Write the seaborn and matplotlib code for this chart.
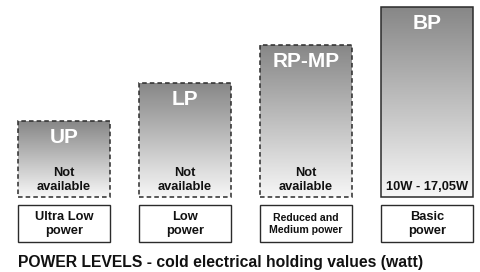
"""
Power levels - cold electrical holding values
"""
import numpy as np
import pandas as pd
import matplotlib.pyplot as plt
import seaborn as sns
from matplotlib.patches import Rectangle
from matplotlib.colors import LinearSegmentedColormap

sns.set_style('white')
plt.rcParams['font.family'] = ['Liberation Sans', 'DejaVu Sans']

# Data
levels = ['UP', 'LP', 'RP-MP', 'BP']
heights = [2, 3, 4, 5]
values = ['Not\navailable', 'Not\navailable', 'Not\navailable', '10W - 17,05W']
names = ['Ultra Low\npower', 'Low\npower', 'Reduced and\nMedium power', 'Basic\npower']
available = [False, False, False, True]
title = 'POWER LEVELS - cold electrical holding values (watt)'

df = pd.DataFrame({'level': levels, 'height': heights})

fig = plt.figure(figsize=(4.81, 2.72), dpi=100)
ax = fig.add_axes([0, 0, 1, 1])

sns.barplot(data=df, x='level', y='height', order=levels, width=0.76,
            color='white', edgecolor='none', ax=ax)

ax.axis('off')

# gradient fill clipped to each bar
cmap = LinearSegmentedColormap.from_list('grey', ['#f7f7f7', '#878787'])
grad = np.linspace(0, 1, 256).reshape(-1, 1)
for bar, ok in zip(ax.patches, available):
    x0, w, h = bar.get_x(), bar.get_width(), bar.get_height()
    im = ax.imshow(grad, cmap=cmap, aspect='auto', origin='lower',
                   extent=(x0, x0 + w, 0, h), zorder=1)
    im.set_clip_path(bar)
    ax.add_patch(Rectangle((x0, 0), w, h, fill=False, edgecolor='#2b2b2b',
                           lw=1.1, linestyle='-' if ok else (0, (3, 2)), zorder=3))

ax.set_xlim(-0.529, 3.446)
ax.set_ylim(-1.974, 5.184)

# texts on bars and name boxes
for i, (bar, lvl, val, name) in enumerate(zip(ax.patches, levels, values, names)):
    cx = bar.get_x() + bar.get_width() / 2
    h = bar.get_height()
    ax.text(cx, h - 0.44, lvl, ha='center', va='center', color='white',
            fontsize=15, fontweight='bold', zorder=4)
    ax.text(cx, 0.1, val, ha='center', va='bottom', color='#111111',
            fontsize=9.3, fontweight='bold', linespacing=1.2, zorder=4)
    ax.add_patch(Rectangle((bar.get_x(), -1.184), bar.get_width(), 0.974,
                           fill=False, edgecolor='#2b2b2b', lw=1.0, zorder=3))
    ax.text(cx, -0.72, name, ha='center', va='center', color='#111111',
            fontsize=7.6 if i == 2 else 9.3, fontweight='bold', linespacing=1.25, zorder=4)

fig.text(18 / 481, 1 - 262 / 272, title, ha='left', va='center',
         fontsize=11.3, fontweight='bold', color='#111111')

plt.savefig('out.png', dpi=100)
